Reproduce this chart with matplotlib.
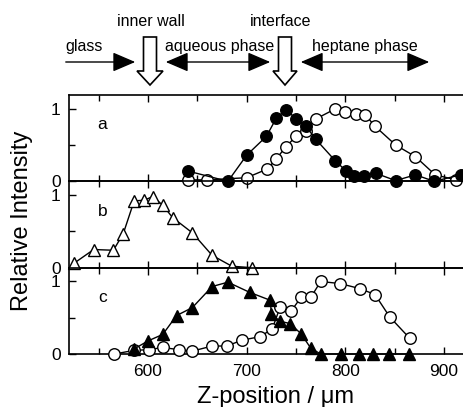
import matplotlib
matplotlib.use("Agg")
import matplotlib.pyplot as plt
from matplotlib.patches import Polygon
from matplotlib.ticker import MultipleLocator
import matplotlib.transforms as mtrans

plt.rcParams['font.family'] = ['Liberation Sans', 'DejaVu Sans']

# ---- data ----
a_filled_x = [641, 681, 700, 720, 730, 740, 750, 760, 770, 790, 801, 809, 819, 831, 851, 871, 890, 917]
a_filled_y = [0.14, 0.0, 0.36, 0.62, 0.87, 0.99, 0.86, 0.76, 0.58, 0.28, 0.14, 0.08, 0.08, 0.11, 0.01, 0.09, 0.0, 0.09]
a_open_x = [641, 660, 700, 721, 730, 740, 750, 760, 770, 790, 800, 811, 820, 830, 851, 871, 891, 912]
a_open_y = [0.02, 0.02, 0.05, 0.17, 0.31, 0.48, 0.62, 0.69, 0.86, 1.0, 0.96, 0.93, 0.92, 0.76, 0.50, 0.34, 0.09, 0.02]

b_x = [525, 545, 565, 575, 586, 596, 605, 615, 625, 645, 665, 685, 705]
b_y = [0.06, 0.25, 0.24, 0.47, 0.92, 0.93, 0.98, 0.86, 0.69, 0.48, 0.17, 0.02, 0.0]

c_filled_x = [586, 600, 615, 629, 645, 665, 681, 703, 724, 725, 734, 744, 755, 765, 775, 796, 814, 828, 844, 864]
c_filled_y = [0.07, 0.18, 0.27, 0.53, 0.64, 0.93, 0.99, 0.85, 0.74, 0.55, 0.45, 0.42, 0.28, 0.08, 0.0, 0.0, 0.0, 0.0, 0.0, 0.0]
c_open_x = [566, 586, 601, 615, 631, 645, 665, 680, 695, 714, 726, 734, 745, 755, 765, 775, 795, 815, 830, 845, 865]
c_open_y = [0.0, 0.05, 0.06, 0.09, 0.06, 0.04, 0.11, 0.11, 0.19, 0.24, 0.35, 0.65, 0.59, 0.78, 0.78, 1.0, 0.97, 0.90, 0.82, 0.51, 0.22]

panel_labels = ['a', 'b', 'c']
x_ticks = [600, 700, 800, 900]

W, H = 464, 407
fig = plt.figure(figsize=(W / 100, H / 100), dpi=100)

left = 69 / W
top = 1 - 95 / H
bottom = 1 - 354 / H
ph = (top - bottom) / 3
xmin, xmax = 520, 930
ppu = 0.987  # pixels per data unit
width = (xmax - xmin) * ppu / W
axes = []
for i in range(3):
    ax = fig.add_axes([left, top - (i + 1) * ph, width, ph])
    axes.append(ax)

ms = 8.3
kw = dict(color='black', lw=1.0, markersize=ms, clip_on=False, zorder=3)
axes[0].plot(a_open_x, a_open_y, 'o', mfc='white', mec='black', ls='-', **kw)
axes[0].plot(a_filled_x, a_filled_y, 'o', mfc='black', mec='black', ls='-', **kw)
axes[1].plot(b_x, b_y, '^', mfc='white', mec='black', ls='-', **kw)
axes[2].plot(c_open_x, c_open_y, 'o', mfc='white', mec='black', ls='-', **kw)
axes[2].plot(c_filled_x, c_filled_y, '^', mfc='black', mec='black', ls='-', **kw)

for i, ax in enumerate(axes):
    ax.set_xlim(xmin, xmax)
    ax.set_ylim(0, 1.19)
    ax.set_xticks(x_ticks)
    ax.xaxis.set_minor_locator(MultipleLocator(50))
    ax.set_yticks([0, 1])
    ax.set_yticklabels(['0', '1'])
    ax.yaxis.set_minor_locator(MultipleLocator(0.5))
    ax.tick_params(which='both', direction='in', top=True, right=False, labelsize=12.5, width=1)
    ax.tick_params(which='major', length=5)
    ax.tick_params(which='minor', length=4)
    ax.tick_params(axis='y', pad=6)
    ax.tick_params(axis='x', pad=7)
    for s in ax.spines.values():
        s.set_linewidth(1.2)
    if i < 2:
        ax.tick_params(labelbottom=False)
    ax.text(554, 0.78, panel_labels[i], fontsize=12.5, ha='center', va='center')
    ax.patch.set_alpha(0)

# pixel transform (origin top-left)
pt = mtrans.Affine2D().scale(1 / W, -1 / H).translate(0, 1) + fig.transFigure

fig.text(276, 397, 'Z-position / \u03bcm', transform=pt, fontsize=17, ha='center', va='center')
fig.text(22, 221, 'Relative Intensity', transform=pt, rotation=90, fontsize=17,
         ha='center', va='center')

fs = 11.5
fig.text(65, 46, 'glass', transform=pt, fontsize=fs, ha='left', va='center')
fig.text(117, 21, 'inner wall', transform=pt, fontsize=fs, ha='left', va='center')
fig.text(250, 21, 'interface', transform=pt, fontsize=fs, ha='left', va='center')
fig.text(165, 46, 'aqueous phase', transform=pt, fontsize=fs, ha='left', va='center')
fig.text(312, 46, 'heptane phase', transform=pt, fontsize=fs, ha='left', va='center')

def harrow(x0, x1, y, style):
    fig.add_artist(matplotlib.patches.FancyArrowPatch(
        (x0, y), (x1, y), transform=pt, arrowstyle=style,
        mutation_scale=1, lw=1.0, color='black'))

harrow(63, 138, 62, matplotlib.patches.ArrowStyle('-|>', head_length=14, head_width=6))
harrow(163, 273, 62, matplotlib.patches.ArrowStyle('<|-|>', head_length=14, head_width=6))
harrow(298, 432, 62, matplotlib.patches.ArrowStyle('<|-|>', head_length=14, head_width=6))

def down_arrow(cx, ytop, ytip, shaft_w, head_w, head_l):
    yh = ytip - head_l
    pts = [(cx - shaft_w / 2, ytop), (cx + shaft_w / 2, ytop), (cx + shaft_w / 2, yh),
           (cx + head_w / 2, yh), (cx, ytip), (cx - head_w / 2, yh), (cx - shaft_w / 2, yh)]
    fig.add_artist(Polygon(pts, closed=True, transform=pt, fc='white', ec='black', lw=1.2))

down_arrow(150, 37, 85, 13, 26, 14)
down_arrow(285, 37, 85, 13, 24, 14)

fig.savefig('out.png', dpi=100)
